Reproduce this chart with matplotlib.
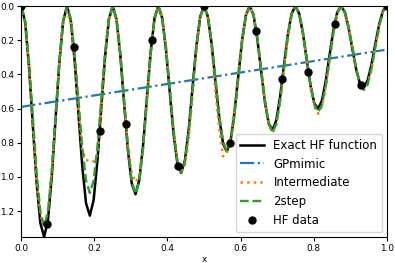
import numpy as np
import matplotlib
matplotlib.use('Agg')
import matplotlib.pyplot as plt

# x grid of the curves (97 samples on [0, 1])
x_curve = np.linspace(0, 1, 97)

# values, one hump of 12 samples per line
hf_exact = [
    0.0, 0.0940, 0.3483, 0.6915, 1.0294, 1.2709, 1.3517, 1.2514, 0.9981, 0.6602, 0.3275, 0.0871,
    0.0, 0.0857, 0.3171, 0.6290, 0.9357, 1.1542, 1.2267, 1.1348, 0.9044, 0.5977, 0.2963, 0.0787,
    0.0, 0.0773, 0.2858, 0.5665, 0.8419, 1.0376, 1.1017, 1.0182, 0.8107, 0.5352, 0.2650, 0.0703,
    0.0, 0.0689, 0.2546, 0.5040, 0.7481, 0.9210, 0.9767, 0.9016, 0.7169, 0.4727, 0.2338, 0.0619,
    0.0, 0.0605, 0.2233, 0.4415, 0.6544, 0.8044, 0.8517, 0.7850, 0.6232, 0.4102, 0.2025, 0.0536,
    0.0, 0.0522, 0.1921, 0.3790, 0.5606, 0.6877, 0.7267, 0.6683, 0.5294, 0.3477, 0.1713, 0.0452,
    0.0, 0.0438, 0.1608, 0.3165, 0.4669, 0.5711, 0.6017, 0.5517, 0.4357, 0.2852, 0.1400, 0.0368,
    0.0, 0.0354, 0.1296, 0.2540, 0.3731, 0.4545, 0.4767, 0.4351, 0.3419, 0.2227, 0.1088, 0.0284,
    0.0,
]

intermediate = [
    0.0, 0.094, 0.350, 0.700, 1.030, 1.220, 1.290, 1.200, 0.960, 0.640, 0.320, 0.090,
    0.03, 0.100, 0.330, 0.620, 0.840, 0.900, 0.910, 0.910, 0.870, 0.620, 0.310, 0.080,
    0.0, 0.075, 0.280, 0.560, 0.820, 0.980, 1.030, 1.000, 0.840, 0.560, 0.270, 0.070,
    0.0, 0.065, 0.240, 0.480, 0.720, 0.900, 0.965, 0.930, 0.770, 0.520, 0.250, 0.065,
    0.0, 0.070, 0.250, 0.500, 0.720, 0.880, 0.860, 0.760, 0.600, 0.390, 0.190, 0.050,
    0.0, 0.0496, 0.185, 0.370, 0.555, 0.6904, 0.740, 0.6904, 0.555, 0.370, 0.185, 0.0496,
    0.0, 0.042, 0.158, 0.315, 0.4725, 0.588, 0.630, 0.588, 0.4725, 0.315, 0.158, 0.042,
    0.0, 0.0328, 0.1225, 0.245, 0.3675, 0.4572, 0.490, 0.4572, 0.3675, 0.245, 0.1225, 0.0328,
    0.0,
]

two_step = [
    0.0, 0.0864, 0.3225, 0.645, 0.9675, 1.2036, 1.290, 1.2036, 0.9675, 0.645, 0.3225, 0.0864,
    0.0, 0.0734, 0.2738, 0.5475, 0.8213, 1.0217, 1.095, 1.0217, 0.8213, 0.5475, 0.2738, 0.0734,
    0.0, 0.0737, 0.275, 0.550, 0.825, 1.0263, 1.100, 1.0263, 0.825, 0.550, 0.275, 0.0737,
    0.0, 0.0653, 0.2438, 0.4875, 0.7313, 0.9097, 0.975, 0.9097, 0.7313, 0.4875, 0.2438, 0.0653,
    0.0, 0.0569, 0.2125, 0.425, 0.6375, 0.7931, 0.850, 0.7931, 0.6375, 0.425, 0.2125, 0.0569,
    0.0, 0.0496, 0.185, 0.370, 0.555, 0.6904, 0.740, 0.6904, 0.555, 0.370, 0.185, 0.0496,
    0.0, 0.0415, 0.155, 0.310, 0.465, 0.5785, 0.620, 0.5785, 0.465, 0.310, 0.155, 0.0415,
    0.0, 0.0328, 0.1225, 0.245, 0.3675, 0.4572, 0.490, 0.4572, 0.3675, 0.245, 0.1225, 0.0328,
    0.0,
]

# GPmimic is a straight line
gp_x = [0.0, 1.0]
gp_y = [0.59, 0.255]

# HF training points
hf_x = np.linspace(0, 1, 15)
hf_y = [0.0, 1.276, 0.239, 0.733, 0.690, 0.199, 0.937, 0.0,
        0.801, 0.145, 0.428, 0.384, 0.105, 0.462, 0.0]

fig = plt.figure(figsize=(3.95, 2.63), dpi=100)
ax = fig.add_axes([0.054, 0.100, 0.925, 0.877])

ax.plot(x_curve, hf_exact, color='black', linewidth=1.8, label='Exact HF function')
ax.plot(gp_x, gp_y, color='tab:blue', linestyle='-.', linewidth=1.6, label='GPmimic')
ax.plot(x_curve, intermediate, color='tab:orange', linestyle=':', linewidth=1.8, label='Intermediate')
ax.plot(x_curve, two_step, color='tab:green', linestyle='--', linewidth=1.7, label='2step')
ax.plot(hf_x, hf_y, 'o', color='black', markersize=5, label='HF data', zorder=5)

ax.set_xlim(0, 1)
ax.set_ylim(1.35, 0.0)
ax.set_xlabel('x', fontsize=6.4, labelpad=2)
ax.tick_params(labelsize=6.4, length=3, pad=2)

ax.legend(loc='lower right', fontsize=8.5, handlelength=2.0, borderaxespad=0.4)

fig.savefig('out.png', dpi=100)
